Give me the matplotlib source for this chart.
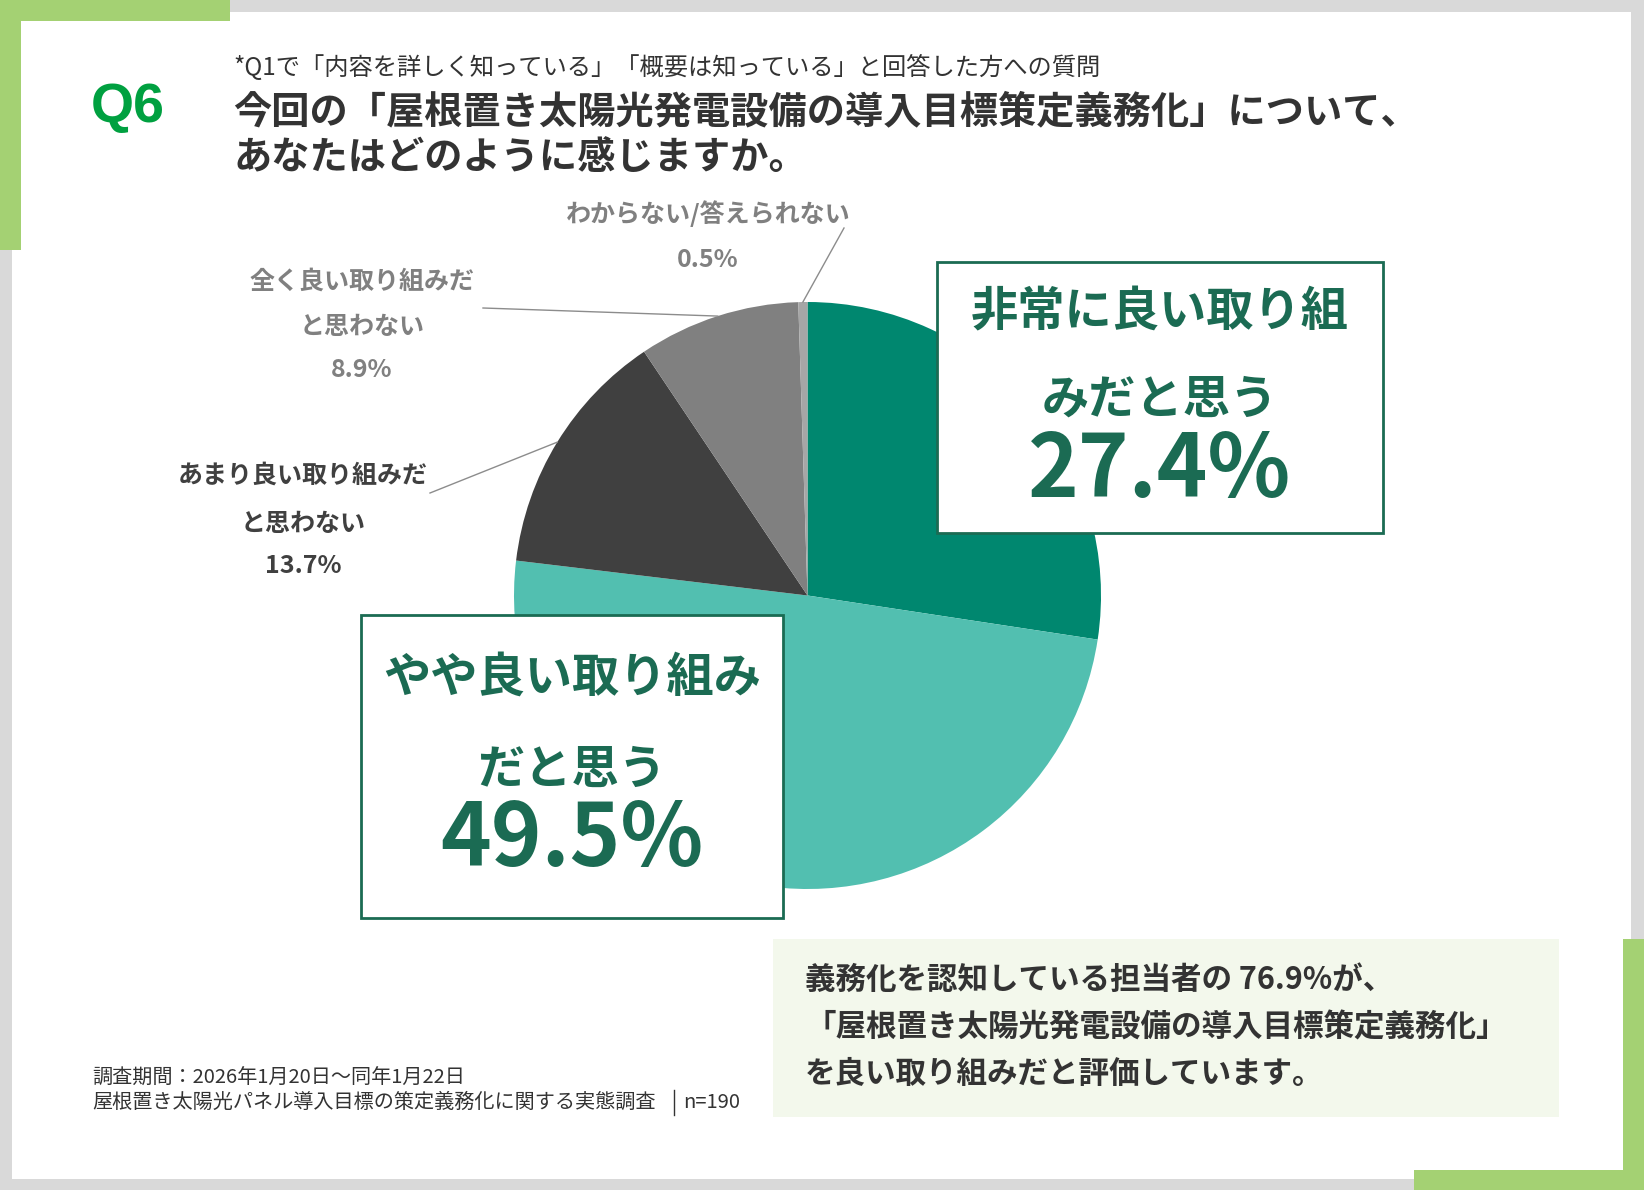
import numpy as np
import matplotlib.pyplot as plt
from matplotlib.patches import Rectangle

plt.rcParams['font.family'] = ['Noto Sans CJK JP', 'DejaVu Sans']

W, H = 1644, 1190

# --- data ---
answers = ['非常に良い取り組みだと思う', 'やや良い取り組みだと思う',
           'あまり良い取り組みだと思わない', '全く良い取り組みだと思わない',
           'わからない/答えられない']
shares = [27.4, 49.5, 13.7, 8.9, 0.5]
slice_colors = ['#00876f', '#52bfb0', '#404040', '#808080', '#a6a6a6']

box1_lines = ['非常に良い取り組', 'みだと思う']
box2_lines = ['やや良い取り組み', 'だと思う']
outside_lines = {2: ['あまり良い取り組みだ', 'と思わない'],
                 3: ['全く良い取り組みだ', 'と思わない'],
                 4: ['わからない/答えられない']}

subtitle = '*Q1で「内容を詳しく知っている」「概要は知っている」と回答した方への質問'
title1 = '今回の「屋根置き太陽光発電設備の導入目標策定義務化」について、'
title2 = 'あなたはどのように感じますか。'
period = '調査期間：2026年1月20日～同年1月22日'
survey = '屋根置き太陽光パネル導入目標の策定義務化に関する実態調査'
n_resp = 190

DARK = '#333333'
BOXGREEN = '#1b6b53'

fig = plt.figure(figsize=(W / 100, H / 100), dpi=100, facecolor='#d9d9d9')

# background layer
bg = fig.add_axes([0, 0, 1, 1], zorder=0)
bg.set_xlim(0, W); bg.set_ylim(H, 0); bg.axis('off')
bg.add_patch(Rectangle((12, 12), 1619, 1167, fc='white', ec='none'))
for (x, y, w, h) in [(0, 0, 230, 21), (0, 0, 21, 250),
                     (1623, 939, 21, 251), (1414, 1170, 230, 20)]:
    bg.add_patch(Rectangle((x, y), w, h, fc='#a4d173', ec='none'))
bg.add_patch(Rectangle((773, 939), 786, 178, fc='#f3f8ec', ec='none'))

# pie
cx, cy, r = 807.5, 595.5, 293.5
half = 1.25 * r
axp = fig.add_axes([(cx - half) / W, (H - cy - half) / H, 2 * half / W, 2 * half / H], zorder=1)
wedges, _ = axp.pie(shares, colors=slice_colors, startangle=90, counterclock=False,
                    radius=1, wedgeprops=dict(linewidth=0))
axp.set_xlim(-1.25, 1.25); axp.set_ylim(-1.25, 1.25)
axp.set_aspect('equal')
axp.axis('off')

# front layer
ov = fig.add_axes([0, 0, 1, 1], zorder=2)
ov.set_xlim(0, W); ov.set_ylim(H, 0); ov.axis('off')
ov.patch.set_alpha(0)

ov.text(128, 122, 'Q6', family=['Liberation Sans'], weight='bold', fontsize=40,
        color='#00a040', ha='center', va='baseline')
ov.text(233, 68, subtitle, fontsize=17.5, color=DARK, va='center')
ov.text(233, 112, title1, fontsize=27.5, weight='bold', color=DARK, va='center')
ov.text(233, 158, title2, fontsize=27.5, weight='bold', color=DARK, va='center')

# big label boxes
def big_box(x, y, w, h, lines, value, ys):
    ov.add_patch(Rectangle((x, y), w, h, fc='white', ec=BOXGREEN, lw=2))
    mx = x + w / 2
    for ln, yy in zip(lines, ys[:2]):
        ov.text(mx, yy, ln, fontsize=34, weight='bold', color=BOXGREEN, ha='center', va='center')
    ov.text(mx, ys[2], f'{value:.1f}%', fontsize=62, weight='bold', color=BOXGREEN,
            ha='center', va='center')

big_box(937, 262, 446, 271, box1_lines, shares[0], [312, 400, 472])
big_box(361, 615, 422, 303, box2_lines, shares[1], [678, 770, 841])

# outside labels with leader lines
label_pos = {2: (303, [476, 524, 566], (430, 493), '#404040'),
             3: (362, [282, 327, 370], (483, 308), '#808080'),
             4: (708, [214, 260], (844, 228), '#808080')}
for i, (lx, ys, start, col) in label_pos.items():
    for ln, yy in zip(outside_lines[i], ys):
        ov.text(lx, yy, ln, fontsize=18, weight='bold', color=col, ha='center', va='center')
    ov.text(lx, ys[-1], f'{shares[i]:.1f}%', fontsize=18, weight='bold', color=col,
            ha='center', va='center')
    w = wedges[i]
    th = np.deg2rad((w.theta1 + w.theta2) / 2)
    edge = ov.transData.inverted().transform(axp.transData.transform((np.cos(th), np.sin(th))))
    ov.plot([start[0], edge[0]], [start[1], edge[1]], color='#8c8c8c', lw=1)

# callout
good = shares[0] + shares[1]
callout = [f'義務化を認知している担当者の {good:.1f}%が、',
           '「屋根置き太陽光発電設備の導入目標策定義務化」',
           'を良い取り組みだと評価しています。']
for ln, yy in zip(callout, [980, 1027, 1074]):
    ov.text(805, yy, ln, fontsize=22, weight='bold', color=DARK, va='center')

# footer
ov.text(92, 1078, period, fontsize=14.5, color=DARK, va='center')
ov.text(92, 1102, survey, fontsize=14.5, color=DARK, va='center')
ov.plot([674, 674], [1090, 1115], color=DARK, lw=1)
ov.text(683, 1102, f'n={n_resp}', fontsize=14.5, color=DARK, va='center')

fig.savefig('out.png', dpi=100, facecolor=fig.get_facecolor())
